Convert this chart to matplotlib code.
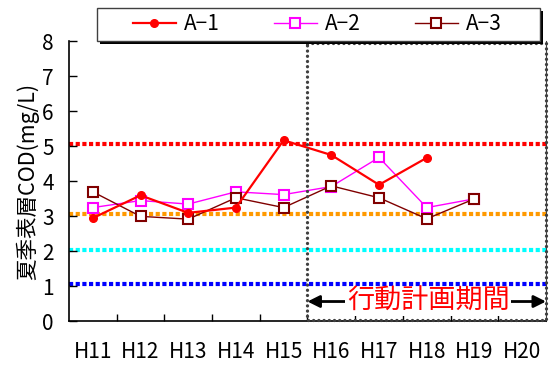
import numpy as np
import matplotlib
matplotlib.use('Agg')
import matplotlib.pyplot as plt
from matplotlib.patches import Rectangle

plt.rcParams['font.family'] = ['Noto Sans CJK JP', 'DejaVu Sans']

years = ['H11', 'H12', 'H13', 'H14', 'H15', 'H16', 'H17', 'H18', 'H19', 'H20']
a1 = [2.95, 3.6, 3.1, 3.25, 5.17, 4.75, 3.9, 4.67, np.nan, np.nan]
a2 = [3.25, 3.45, 3.35, 3.7, 3.62, 3.85, 4.68, 3.25, 3.5, np.nan]
a3 = [3.7, 3.0, 2.92, 3.53, 3.25, 3.87, 3.53, 2.93, 3.5, np.nan]
# 基準値の目安線
limits = [5.05, 3.08, 2.03, 1.08]
limit_colors = ['#ff0000', '#ff9900', '#00ffff', '#0000ff']

fig = plt.figure(figsize=(5.56, 3.67), dpi=100)
ax = fig.add_axes([0.124, 0.124, 0.858, 0.764])
x = np.arange(len(years))

for v, c in zip(limits, limit_colors):
    ax.axhline(v, color=c, lw=3, linestyle=(0, (1, 0.6)), zorder=1)

l1, = ax.plot(x, a1, color='#ff0000', lw=1.6, marker='o', ms=5.5, zorder=4, label='A−1')
l2, = ax.plot(x, a2, color='#ff00ff', lw=1.0, marker='s', ms=7, mfc='white',
              mec='#ff00ff', mew=1.5, zorder=3, label='A−2')
l3, = ax.plot(x, a3, color='#800000', lw=1.0, marker='s', ms=7, mfc='white',
              mec='#800000', mew=1.5, zorder=3, label='A−3')

# 行動計画期間の枠
dot = dict(color='#404040', lw=2.4, linestyle=(0, (0.01, 1.55)),
           solid_capstyle='round', dash_capstyle='round', zorder=5, clip_on=False)
ax.plot([4.5, 9.5, 9.5, 4.5, 4.5], [7.95, 7.95, 0.04, 0.04, 7.95], **dot)

ax.annotate('', xy=(4.5, 0.57), xytext=(9.5, 0.57),
            arrowprops=dict(arrowstyle='<|-|>', color='black', lw=2, mutation_scale=18,
                            shrinkA=0, shrinkB=0), zorder=5)
ax.text(7.03, 0.57, '行動計画期間', color='#ff0000', fontsize=19.5, ha='center', va='center',
        bbox=dict(facecolor='white', edgecolor='none', pad=1), zorder=6)

ax.set_xlim(-0.5, 9.5)
ax.set_ylim(0, 8)
ax.set_yticks(range(9))
ax.set_xticks(x)
ax.set_xticklabels(years)
ax.set_xticks(np.arange(0.5, 9.5, 1), minor=True)
ax.tick_params(axis='x', which='major', length=0, pad=14, labelsize=15)
ax.tick_params(axis='x', which='minor', direction='in', length=5, width=1)
ax.tick_params(axis='y', direction='in', length=6, width=1, pad=11, labelsize=15)
ax.spines['top'].set_visible(False)
ax.spines['right'].set_color('#404040')
ax.spines['left'].set_linewidth(1.2)
ax.spines['bottom'].set_linewidth(1.2)
ax.set_ylabel('夏季表層COD(mg/L)', fontsize=15.5, labelpad=2)

# 凡例の枠と影
W, H = 556.0, 367.0
fig.patches.append(Rectangle((100 / W, 1 - 44 / H), 443 / W, 33 / H, transform=fig.transFigure,
                             facecolor='black', edgecolor='none', zorder=1))
fig.patches.append(Rectangle((97 / W, 1 - 41 / H), 443 / W, 33 / H, transform=fig.transFigure,
                             facecolor='white', edgecolor='#404040', lw=1, zorder=2))
leg = fig.legend(handles=[l1, l2, l3], ncol=3, loc='center',
                 bbox_to_anchor=(317 / W, 1 - 24.5 / H), bbox_transform=fig.transFigure,
                 fontsize=15, handlelength=2.1, handletextpad=0.35, columnspacing=2.6,
                 frameon=False)

fig.savefig('out.png', dpi=100)
